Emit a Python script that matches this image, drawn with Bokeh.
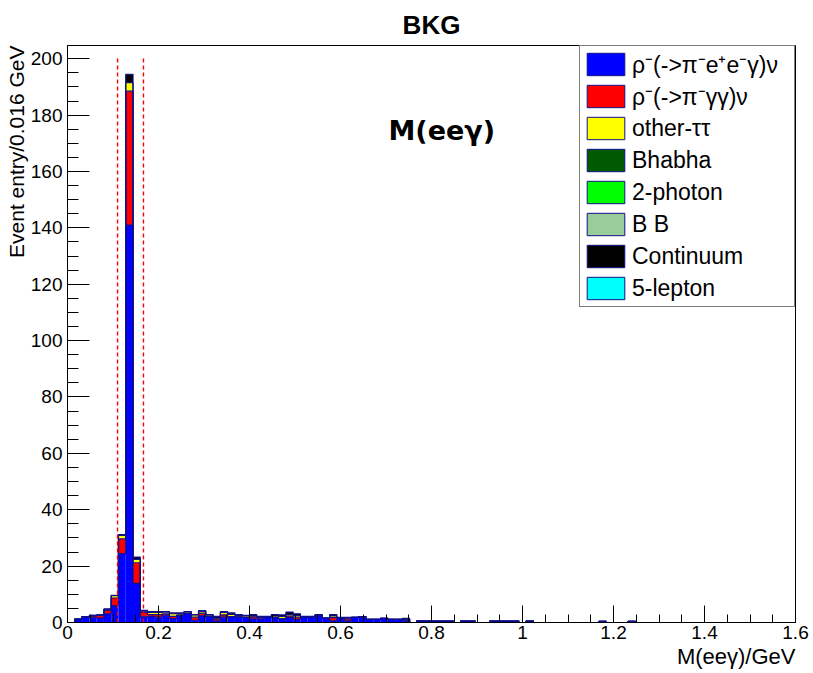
from bokeh.plotting import figure
from bokeh.models import (Range1d, FixedTicker, CustomJSTickFormatter, Label,
                          Legend, LegendItem, Title)
from bokeh.embed import file_html
from bokeh.resources import INLINE

# ---------------- data ----------------
x_min, x_max, bin_width = 0.0, 1.6, 0.016
n_bins = 100

# rho-(->pi- e+ e- gamma) nu
rho_eeg = [
    0.0, 1.2, 2.1, 1.9, 1.6, 3.1, 6.0, 24.4, 141.0, 13.9,
    2.0, 2.2, 1.9, 2.6, 1.4, 2.6, 3.2, 0.8, 2.4, 2.2,
    0.6, 1.9, 2.1, 2.0, 1.8, 1.3, 1.3, 2.0, 1.8, 1.3,
    1.8, 1.1, 2.0, 2.0, 2.4, 1.5, 0.6, 1.7, 0.6, 1.8,
    2.0, 1.1, 1.1, 1.5, 1.1, 1.1, 0.6, 0.0, 0.6, 0.6,
    0.5, 0.5, 0.5, 0.0, 0.5, 0.5, 0.0, 0.0, 0.5, 0.5,
    0.5, 0.5, 0.0, 0.5, 0.0, 0.0, 0.0, 0.0, 0.0, 0.0,
    0.0, 0.0, 0.0, 0.4, 0.0, 0.0, 0.0, 0.4, 0.0, 0.0,
    0.0, 0.0, 0.0, 0.0, 0.0, 0.0, 0.0, 0.0, 0.0, 0.0,
    0.0, 0.0, 0.0, 0.0, 0.0, 0.0, 0.0, 0.0, 0.0, 0.0,
]
# rho-(->pi- gamma gamma) nu
rho_gg = [
    0.0, 0.0, 0.0, 0.4, 0.9, 1.2, 2.7, 5.3, 47.5, 7.3,
    1.6, 0.6, 0.9, 0.5, 0.8, 0.0, 0.0, 1.1, 0.9, 0.0,
    0.7, 0.8, 0.0, 0.0, 0.0, 0.7, 0.6, 0.0, 0.0, 0.0,
    0.5, 0.8, 0.0, 0.0, 0.0, 0.0, 1.1, 0.0, 0.7, 0.0,
    0.0, 0.0, 0.0, 0.0, 0.0, 0.0, 0.0, 0.0, 0.0, 0.0,
    0.0, 0.0, 0.0, 0.0, 0.0, 0.0, 0.0, 0.0, 0.0, 0.0,
    0.0, 0.0, 0.0, 0.0, 0.0, 0.0, 0.0, 0.0, 0.0, 0.0,
    0.0, 0.0, 0.0, 0.0, 0.0, 0.0, 0.0, 0.0, 0.0, 0.0,
    0.0, 0.0, 0.0, 0.0, 0.0, 0.0, 0.0, 0.0, 0.0, 0.0,
    0.0, 0.0, 0.0, 0.0, 0.0, 0.0, 0.0, 0.0, 0.0, 0.0,
]
# other tau tau
other_tautau = [
    0.0, 0.0, 0.0, 0.2, 0.2, 0.4, 0.8, 1.2, 3.0, 1.2,
    0.4, 0.8, 0.8, 0.6, 0.9, 0.6, 0.5, 0.8, 0.6, 0.5,
    0.3, 0.9, 0.8, 0.5, 0.5, 0.3, 0.0, 0.0, 0.5, 0.9,
    0.5, 0.6, 0.0, 0.0, 0.2, 0.0, 0.6, 0.0, 0.3, 0.0,
    0.0, 0.0, 0.0, 0.0, 0.0, 0.0, 0.5, 0.0, 0.0, 0.0,
    0.0, 0.0, 0.0, 0.0, 0.0, 0.0, 0.0, 0.0, 0.0, 0.0,
    0.0, 0.0, 0.0, 0.0, 0.0, 0.0, 0.0, 0.0, 0.0, 0.0,
    0.0, 0.0, 0.0, 0.0, 0.0, 0.0, 0.0, 0.0, 0.0, 0.0,
    0.0, 0.0, 0.0, 0.0, 0.0, 0.0, 0.0, 0.0, 0.0, 0.0,
    0.0, 0.0, 0.0, 0.0, 0.0, 0.0, 0.0, 0.0, 0.0, 0.0,
]
# Bhabha, 2-photon, BB, 5-lepton: no entries in this plot
bhabha = []
two_photon = []
bbbar = []
five_lepton = []
# continuum
continuum = [
    0.0, 0.0, 0.0, 0.0, 0.0, 0.1, 0.1, 0.3, 3.0, 0.8,
    0.3, 0.3, 0.3, 0.2, 0.3, 0.2, 0.2, 0.1, 0.3, 0.1,
    0.6, 0.3, 0.5, 0.3, 0.2, 0.5, 0.3, 0.2, 0.5, 0.5,
    0.9, 0.6, 0.2, 0.2, 0.2, 0.15, 0.5, 0.1, 0.2, 0.0,
    0.1, 0.0, 0.0, 0.0, 0.0, 0.0, 0.4, 0.0, 0.0, 0.0,
    0.0, 0.0, 0.0, 0.0, 0.0, 0.0, 0.0, 0.0, 0.0, 0.0,
    0.0, 0.0, 0.0, 0.0, 0.0, 0.0, 0.0, 0.0, 0.0, 0.0,
    0.0, 0.0, 0.0, 0.0, 0.0, 0.0, 0.0, 0.0, 0.0, 0.0,
    0.0, 0.0, 0.0, 0.0, 0.0, 0.0, 0.0, 0.0, 0.0, 0.0,
    0.0, 0.0, 0.0, 0.0, 0.0, 0.0, 0.0, 0.0, 0.0, 0.0,
]

legend_labels = ["\u03c1\u207b(->\u03c0\u207be\u207ae\u207b\u03b3)\u03bd",
                 "\u03c1\u207b(->\u03c0\u207b\u03b3\u03b3)\u03bd",
                 "other-\u03c4\u03c4", "Bhabha", "2-photon", "B B",
                 "Continuum", "5-lepton"]
legend_colors = ["#0000ff", "#ff0000", "#ffff00", "#005a00", "#00ff00",
                 "#99cc99", "#000000", "#00ffff"]
series = [rho_eeg, rho_gg, other_tautau, bhabha, two_photon, bbbar,
          continuum, five_lepton]

cut_lines = [0.11, 0.167]
cut_top = 200.5
x_ticks = [0, 0.2, 0.4, 0.6, 0.8, 1.0, 1.2, 1.4, 1.6]
y_ticks = [0, 20, 40, 60, 80, 100, 120, 140, 160, 180, 200]
y_max = 204.7

# ---------------- figure ----------------
W, H = 813, 673
FL, FR, FT, FB = 67, 795, 45, 622   # frame edges in pixels
FONT = "Liberation Sans"

p = figure(width=W, height=H, output_backend="svg", toolbar_location=None,
           x_range=Range1d(x_min, x_max), y_range=Range1d(0, y_max),
           min_border_left=FL, min_border_right=W - FR,
           min_border_top=FT, min_border_bottom=H - FB)
p.background_fill_color = "white"
p.border_fill_color = "white"
p.outline_line_color = "black"
p.outline_line_width = 1
p.xgrid.visible = False
p.ygrid.visible = False

p.title.text = "BKG"
p.title.align = "center"
p.title.text_font = FONT
p.title.text_font_size = "26px"
p.title.text_font_style = "bold"
p.title.text_color = "black"
p.title.standoff = 12

for ax in (p.xaxis[0], p.yaxis[0]):
    ax.axis_line_color = "black"
    ax.major_tick_line_color = "black"
    ax.minor_tick_line_color = "black"
    ax.major_tick_out = 0
    ax.minor_tick_out = 0
    ax.major_label_text_font = FONT
    ax.major_label_text_font_size = "19px"
    ax.major_label_text_color = "black"

xa = p.xaxis[0]
xa.ticker = FixedTicker(ticks=x_ticks, minor_ticks=[i * 0.05 for i in range(33)])
xa.formatter = CustomJSTickFormatter(code="return String(Math.round(tick*10)/10);")
xa.major_tick_in = 17
xa.minor_tick_in = 8
xa.major_label_standoff = 3

ya = p.yaxis[0]
ya.ticker = FixedTicker(ticks=y_ticks, minor_ticks=list(range(0, 205, 5)))
ya.major_tick_in = 22
ya.minor_tick_in = 11
ya.major_label_standoff = 5

# axis titles as side titles (aligned to the frame end, like ROOT)
p.add_layout(Title(text="M(ee\u03b3)/GeV", align="right", text_font=FONT,
                   text_font_size="22px", text_font_style="normal",
                   text_color="black", standoff=0, offset=0), "below")
p.add_layout(Title(text="Event entry/0.016 GeV", align="right", text_font=FONT,
                   text_font_size="21px", text_font_style="normal",
                   text_color="black", standoff=0, offset=0), "left")

# ---------------- stacked histogram ----------------
edges = [x_min + i * bin_width for i in range(n_bins + 1)]
left = edges[:-1]
right = edges[1:]
bottom = [0.0] * n_bins
cum_tops = []
for vals, color in zip(series, legend_colors):
    if not vals:
        continue
    top = [b + v for b, v in zip(bottom, vals)]
    idx = [i for i in range(n_bins) if vals[i] > 0]
    p.quad(left=[left[i] for i in idx], right=[right[i] for i in idx],
           bottom=[bottom[i] for i in idx], top=[top[i] for i in idx],
           fill_color=color, line_color=None)
    cum_tops.append(top)
    bottom = top

OUTLINE = "#10108a"
for top in cum_tops:
    p.step(x=edges, y=top + [top[-1]], mode="after", line_color=OUTLINE,
           line_width=1.2)

# cut lines
p.segment(x0=cut_lines, x1=cut_lines, y0=[0, 0], y1=[cut_top, cut_top],
          line_color="#ff0000", line_width=1.4, line_dash="4 3")

# ---------------- legend ----------------
# legend swatches: one off-range quad per sample (clipped away by the frame)
items = []
for lab, col in zip(legend_labels, legend_colors):
    r = p.quad(left=[-1.0], right=[-0.9], bottom=[-10.0], top=[-9.0],
               fill_color=col, line_color=OUTLINE, line_width=1)
    items.append(LegendItem(label=lab, renderers=[r]))
legend = Legend(items=items, location="top_right", margin=0, padding=2,
                spacing=0, glyph_width=47, glyph_height=28, label_height=32,
                label_width=160, label_standoff=3, label_text_font=FONT,
                label_text_font_size="23px", label_text_baseline="middle",
                label_text_color="black",
                border_line_color="black", border_line_width=1,
                background_fill_color="white", background_fill_alpha=1.0)
p.add_layout(legend, "center")

# ---------------- in-frame text ----------------
def dx(px):
    return x_min + (px - FL) / (FR - FL) * (x_max - x_min)


def dy(py):
    return (FB - py) / (FB - FT) * y_max


p.add_layout(Label(x=dx(388), y=dy(130), text="M(ee\u03b3)",
                   text_font="DejaVu Sans", text_color="black",
                   text_font_style="bold", text_font_size="27px",
                   text_align="left", text_baseline="middle"))

open("out.html", "w").write(file_html(p, INLINE))
